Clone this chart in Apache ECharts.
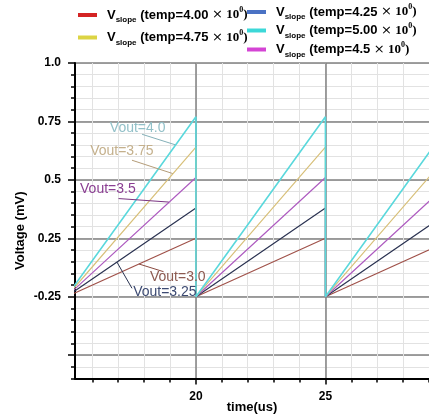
<!DOCTYPE html>
<html>
<head>
<meta charset="utf-8">
<script src="https://cdn.jsdelivr.net/npm/echarts@6/dist/echarts.min.js"></script>
<style>
  html, body { margin: 0; padding: 0; background: #fff; }
  #chart { width: 429px; height: 416px; }
</style>
</head>
<body>
<div id="chart"></div>
<script>
    // time axis (us)
    var xMin = 15.33;
    var xMax = 29;
    var xMinorTicks = [16, 17, 18, 19, 20, 21, 22, 23, 24, 25, 26, 27, 28, 29];
    var xMajorTicks = [20, 25];
    var xMajorLabels = ['20', '25'];

    // voltage axis (mV) - labels as printed on the original
    var yMin = -0.35;
    var yMax = 1.0;
    var yMajorTicks = [-0.25, 0, 0.25, 0.5, 0.75, 1.0];
    var yMajorLabels = ['', '-0.25', '0.25', '0.5', '0.75', '1.0'];
    var yMinorTicks = [];
    for (var k = -7; k <= 20; k++) {
        yMinorTicks.push(+(k * 0.05).toFixed(2));
    }

    // sawtooth ramps: start / end of each ramp
    var rampTimes = [15, 20, 20, 25, 25, 30];
    var temps = ['4.00', '4.25', '4.5', '4.75', '5.00'];
    var peaks = [0.25, 0.38, 0.51, 0.64, 0.77];
    var base = [0, 0, 0, 0, 0];

    var lineColors = ['#a0524a', '#2b3352', '#ae5cc0', '#d8c07a', '#5ad8dc'];
    var legendColors = ['#d42424', '#4a72c4', '#d444d4', '#dcd444', '#3cd8d8'];

    // annotations
    var noteTexts = ['Vout=3.0', 'Vout=3.25', 'Vout=3.5', 'Vout=3.75', 'Vout=4.0'];
    var noteTextColors = ['#8c5a50', '#3c4a72', '#8a3e92', '#c4b08c', '#92c0c8'];
    var noteLineColors = ['#8a4a40', '#2a3452', '#7a3482', '#b49c78', '#84b0b8'];
    var notePos = [[19.3, 0.084], [18.8, 0.02], [16.6, 0.46], [17.14, 0.623], [17.75, 0.721]];
    var leaderFrom = [[17.8, 0.14], [16.95, 0.148], [17.01, 0.42], [17.53, 0.584], [17.92, 0.695]];
    var leaderTo = [[18.75, 0.107], [17.53, 0.036], [18.95, 0.405], [19.1, 0.527], [19.2, 0.65]];

    function seriesName(i) {
        return 'Vslope (temp=' + temps[i] + ' × 10^0)';
    }

    function pickLabel(val, ticks, labels) {
        for (var j = 0; j < ticks.length; j++) {
            if (Math.abs(ticks[j] - val) < 1e-6) return labels[j];
        }
        return '';
    }

    var chart = echarts.init(document.getElementById('chart'));

    var series = [];
    for (var i = 0; i < temps.length; i++) {
        var data = [];
        for (var r = 0; r < rampTimes.length; r++) {
            data.push([rampTimes[r], r % 2 === 0 ? base[i] : peaks[i]]);
        }
        series.push({
            name: seriesName(i),
            type: 'line',
            xAxisIndex: 0,
            yAxisIndex: 0,
            data: data,
            showSymbol: false,
            symbol: 'none',
            color: lineColors[i],
            lineStyle: { color: lineColors[i], width: i === 4 ? 1.6 : 1.2 },
            markPoint: {
                symbol: 'circle',
                symbolSize: 1,
                silent: true,
                itemStyle: { color: 'rgba(0,0,0,0)' },
                label: {
                    show: true,
                    position: 'inside',
                    formatter: noteTexts[i],
                    color: noteTextColors[i],
                    fontSize: 14,
                    fontFamily: 'Liberation Sans'
                },
                data: [{ coord: notePos[i] }]
            },
            markLine: {
                symbol: ['none', 'none'],
                silent: true,
                label: { show: false },
                lineStyle: { color: noteLineColors[i], width: 1, type: 'solid' },
                data: [[{ coord: leaderFrom[i] }, { coord: leaderTo[i] }]]
            }
        });
    }

    var legendSpots = [
        { left: 78, top: 6 },
        { left: 247, top: 3 },
        { left: 247, top: 40.5 },
        { left: 78, top: 28.5 },
        { left: 247, top: 21.5 }
    ];

    var legends = [];
    for (var i = 0; i < temps.length; i++) {
        legends.push({
            left: legendSpots[i].left,
            top: legendSpots[i].top,
            padding: 0,
            icon: 'rect',
            itemWidth: 19,
            itemHeight: 4,
            selectedMode: false,
            data: [{ name: seriesName(i), itemStyle: { color: legendColors[i] } }],
            formatter: (function (t) {
                return function () {
                    return '{v|V}{s|slope}{t| (temp=' + t + ' }{x|×}{n| 10}{p|0}{n|)}';
                };
            })(temps[i]),
            textStyle: {
                color: '#000',
                fontSize: 13,
                fontWeight: 'bold',
                fontFamily: 'Liberation Sans',
                rich: {
                    v: { fontSize: 13, fontWeight: 'bold', fontFamily: 'Liberation Sans', lineHeight: 18, padding: [0, 0, 0, 5], color: '#000' },
                    s: { fontSize: 8, fontWeight: 'bold', fontFamily: 'Liberation Sans', lineHeight: 10, verticalAlign: 'bottom', color: '#000' },
                    t: { fontSize: 13, fontWeight: 'bold', fontFamily: 'Liberation Sans', lineHeight: 18, color: '#000' },
                    x: { fontSize: 13, fontWeight: 'normal', fontFamily: 'DejaVu Sans', lineHeight: 18, color: '#000' },
                    n: { fontSize: 13, fontWeight: 'bold', fontFamily: 'Liberation Serif', lineHeight: 18, color: '#000' },
                    p: { fontSize: 8, fontWeight: 'bold', fontFamily: 'Liberation Serif', lineHeight: 12, verticalAlign: 'top', color: '#000' }
                }
            }
        });
    }

    var option = {
        animation: false,
        backgroundColor: '#fff',
        legend: legends,
        grid: {
            left: 75,
            top: 63,
            right: 0,
            bottom: 37.5,
            containLabel: false,
            outerBoundsMode: 'none'
        },
        xAxis: [
            {
                type: 'value',
                min: xMin,
                max: xMax,
                position: 'bottom',
                name: 'time(us)',
                nameLocation: 'middle',
                nameGap: 22,
                nameTextStyle: { color: '#000', fontSize: 13, fontWeight: 'bold', fontFamily: 'Liberation Sans' },
                axisLine: { show: true, onZero: false, lineStyle: { color: '#000', width: 2 } },
                axisTick: { show: true, customValues: xMinorTicks, length: 4, lineStyle: { color: '#000', width: 1.5 } },
                axisLabel: { show: false },
                splitLine: { show: true, lineStyle: { color: '#e2e2e2', width: 1 } }
            },
            {
                type: 'value',
                min: xMin,
                max: xMax,
                position: 'bottom',
                axisLine: { show: false, onZero: false },
                axisTick: { show: true, customValues: xMajorTicks, length: 6, lineStyle: { color: '#000', width: 1.5 } },
                axisLabel: {
                    show: true,
                    customValues: xMajorTicks,
                    margin: 12,
                    color: '#000',
                    fontSize: 12,
                    fontWeight: 'bold',
                    fontFamily: 'Liberation Sans',
                    formatter: function (val) { return pickLabel(val, xMajorTicks, xMajorLabels); }
                },
                splitLine: { show: true, lineStyle: { color: '#808080', width: 1.5 } }
            }
        ],
        yAxis: [
            {
                type: 'value',
                min: yMin,
                max: yMax,
                position: 'left',
                name: 'Voltage (mV)',
                nameLocation: 'middle',
                nameGap: 48,
                nameTextStyle: { color: '#000', fontSize: 13, fontWeight: 'bold', fontFamily: 'Liberation Sans', padding: [0, 20, 0, 0] },
                axisLine: { show: true, onZero: false, lineStyle: { color: '#000', width: 2 } },
                axisTick: { show: true, customValues: yMinorTicks, length: 4, lineStyle: { color: '#000', width: 1.5 } },
                axisLabel: { show: false },
                splitLine: { show: true, lineStyle: { color: '#e2e2e2', width: 1 } }
            },
            {
                type: 'value',
                min: yMin,
                max: yMax,
                position: 'left',
                axisLine: { show: false, onZero: false },
                axisTick: { show: true, customValues: yMajorTicks, length: 7, lineStyle: { color: '#000', width: 1.5 } },
                axisLabel: {
                    show: true,
                    customValues: yMajorTicks,
                    margin: 14,
                    color: '#000',
                    fontSize: 12,
                    fontWeight: 'bold',
                    fontFamily: 'Liberation Sans',
                    formatter: function (val) { return pickLabel(val, yMajorTicks, yMajorLabels); }
                },
                splitLine: { show: true, lineStyle: { color: '#808080', width: 1.5 } }
            }
        ],
        series: series
    };
    chart.setOption(option);
</script>
</body>
</html>
